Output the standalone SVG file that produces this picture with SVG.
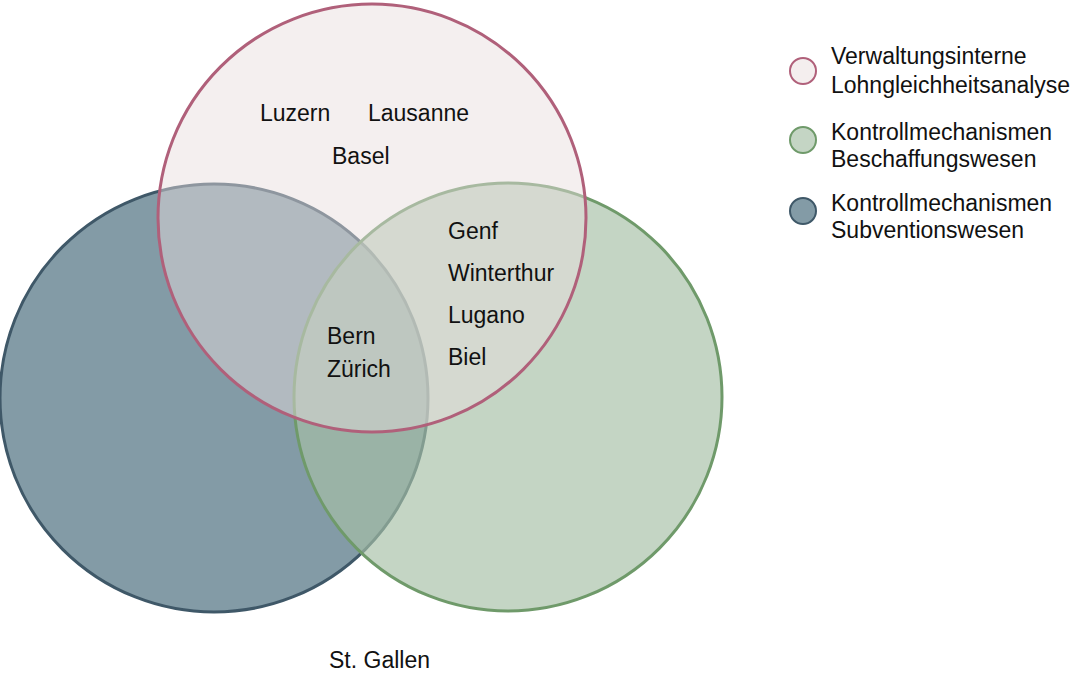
<svg xmlns="http://www.w3.org/2000/svg" width="1076" height="675" viewBox="0 0 1076 675">
<style>
text{font-family:"Liberation Sans",Arial,sans-serif;font-size:23px;fill:#111}
.blue{fill:#839ba6;stroke:#3f5868;stroke-width:3}
.green{fill:#a5bfa5;fill-opacity:0.66;stroke:#6f9a6a;stroke-width:3}
.pink{fill:#e8dcdc;fill-opacity:0.47;stroke:#b0607a;stroke-width:3}
.lblue{fill:#839ba6;stroke:#3f5868;stroke-width:2}
.lgreen{fill:#c4d5c4;stroke:#6f9a6a;stroke-width:2}
.lpink{fill:#f4eeee;stroke:#b0607a;stroke-width:2}
</style>
<rect width="1076" height="675" fill="#fff"/>
<g id="subvention"><circle class="blue" cx="214" cy="398" r="214"/></g>
<g id="beschaffung"><circle class="green" cx="508" cy="397" r="214"/></g>
<g id="lohn"><circle class="pink" cx="372" cy="218" r="214"/></g>
<g id="labels">
<text x="260" y="121">Luzern</text>
<text x="368" y="121">Lausanne</text>
<text x="332" y="164">Basel</text>
<text x="448" y="239">Genf</text>
<text x="448" y="281">Winterthur</text>
<text x="448" y="323">Lugano</text>
<text x="448" y="365">Biel</text>
<text x="327" y="344">Bern</text>
<text x="327" y="377">Zürich</text>
<text x="329" y="668">St. Gallen</text>
</g>
<g id="legend">
<circle class="lpink" cx="803" cy="71" r="13"/>
<text x="831" y="64">Verwaltungsinterne</text>
<text x="831" y="93">Lohngleichheitsanalyse</text>
<circle class="lgreen" cx="803" cy="140" r="13"/>
<text x="831" y="140">Kontrollmechanismen</text>
<text x="831" y="167">Beschaffungswesen</text>
<circle class="lblue" cx="803" cy="211" r="13"/>
<text x="831" y="211">Kontrollmechanismen</text>
<text x="831" y="238">Subventionswesen</text>
</g>
<g id="connectors"/>
</svg>
